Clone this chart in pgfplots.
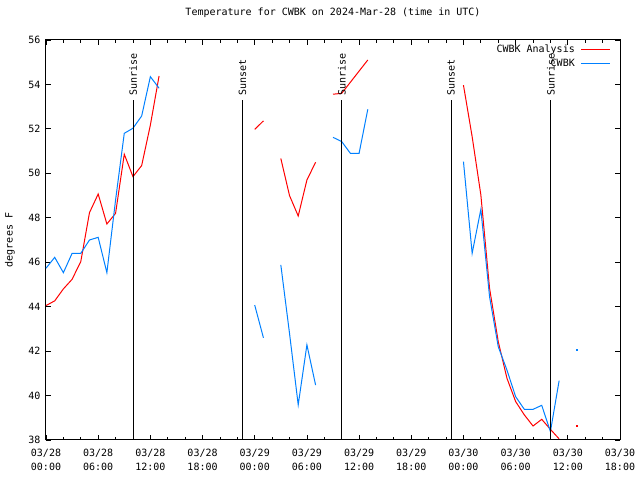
\documentclass[border=0pt]{standalone}
\usepackage{pgfplots}
\pgfplotsset{compat=1.18}
\usepackage{pgfplotstable}
\usepackage{fontspec}
\setmainfont{DejaVu Sans Mono}
\definecolor{gred}{RGB}{255,0,0}
\definecolor{gblue}{RGB}{0,128,255}
\newcommand\gfont{\fontsize{10bp}{14bp}\selectfont}

\pgfplotstableread{
h T
0 44.05
1 44.26
2 44.8
3 45.23
4 46.03
5 48.23
6 49.07
7 47.72
8 48.2
9 50.86
10 49.85
11 50.35
12 52.17
13 54.38
14 nan
24 51.98
25 52.36
26 nan
27 50.67
28 49.0
29 48.08
30 49.7
31 50.5
32 nan
33 53.56
34 53.6
35 54.1
36 54.6
37 55.1
38 nan
48 53.97
49 51.65
50 49.03
51 44.83
52 42.43
53 40.78
54 39.73
55 39.13
56 38.63
57 38.93
58 38.48
59 38.05
}\analysis

\pgfplotstableread{
h T
0 45.73
1 46.22
2 45.53
3 46.4
4 46.4
5 47.0
6 47.12
7 45.53
8 48.8
9 51.8
10 52.03
11 52.58
12 54.35
13 53.83
14 nan
24 44.07
25 42.6
26 nan
27 45.88
28 42.8
29 39.58
30 42.28
31 40.47
32 nan
33 51.62
34 51.43
35 50.9
36 50.9
37 52.88
38 nan
48 50.53
49 46.4
50 48.38
51 44.45
52 42.2
53 41.15
54 39.95
55 39.38
56 39.38
57 39.56
58 38.38
59 40.67
}\obs

\begin{document}
\begin{tikzpicture}
\begin{axis}[
  scale only axis, width=574bp, height=400bp,
  xmin=0, xmax=66, ymin=38, ymax=56,
  clip=false,
  unbounded coords=jump,
  xtick={0,6,...,66}, minor x tick num=2,
  xticklabels={03/28\\00:00,03/28\\06:00,03/28\\12:00,03/28\\18:00,03/29\\00:00,03/29\\06:00,03/29\\12:00,03/29\\18:00,03/30\\00:00,03/30\\06:00,03/30\\12:00,03/30\\18:00},
  xticklabel style={align=center, font=\gfont, yshift=-6bp},
  ytick={38,40,...,56},
  yticklabel style={font=\gfont, xshift=-2bp},
  /pgf/number format/assume math mode=true,
  tick align=inside,
  major tick length=5bp, minor tick length=3bp,
  every tick/.style={black, line width=0.8bp},
  axis line style={black, line width=1bp},
  title={Temperature for CWBK on 2024-Mar-28 (time in UTC)},
  title style={font=\gfont, at={(axis description cs:0.5,1)}, anchor=center, yshift=21bp},
  ylabel={degrees F},
  ylabel style={font=\gfont, at={(axis description cs:-0.0627,0.5)}, anchor=center},
  legend style={at={(axis description cs:1,1)}, anchor=north east, draw=none, fill=none,
    font=\gfont, xshift=-9bp, yshift=-5bp, row sep=5bp, inner sep=0pt,
    nodes={inner xsep=1bp, inner ysep=0pt}},
  legend plot pos=right,
  legend cell align=right,
  legend image code/.code={\path (0bp,0bp); \draw[#1] (5bp,0bp) -- (34bp,0bp);},
]
\addplot[gred, line width=1bp] table[x=h,y=T] {\analysis};
\addlegendentry{CWBK Analysis}
\addplot[gblue, line width=1bp] table[x=h,y=T] {\obs};
\addlegendentry{CWBK}
\addplot[gred, only marks, mark=square*, mark size=0.5bp, forget plot] coordinates {(61,38.63)};
\addplot[gblue, only marks, mark=square*, mark size=0.5bp, forget plot] coordinates {(61,42.08)};

\addplot[black, line width=1bp, forget plot] coordinates {(10.02,38) (10.02,53.3)};
\addplot[black, line width=1bp, forget plot] coordinates {(22.58,38) (22.58,53.3)};
\addplot[black, line width=1bp, forget plot] coordinates {(34.02,38) (34.02,53.3)};
\addplot[black, line width=1bp, forget plot] coordinates {(46.58,38) (46.58,53.3)};
\addplot[black, line width=1bp, forget plot] coordinates {(58.06,38) (58.06,53.3)};
\node[rotate=90, anchor=west, font=\gfont, inner sep=0pt] at (axis cs:10.02,53.5) {Sunrise};
\node[rotate=90, anchor=west, font=\gfont, inner sep=0pt] at (axis cs:22.58,53.5) {Sunset};
\node[rotate=90, anchor=west, font=\gfont, inner sep=0pt] at (axis cs:34.02,53.5) {Sunrise};
\node[rotate=90, anchor=west, font=\gfont, inner sep=0pt] at (axis cs:46.58,53.5) {Sunset};
\node[rotate=90, anchor=west, font=\gfont, inner sep=0pt] at (axis cs:58.06,53.5) {Sunrise};
\end{axis}
\path (current axis.south west) ++(-46bp,-40bp) rectangle ++(640bp,480bp);
\end{tikzpicture}
\end{document}
